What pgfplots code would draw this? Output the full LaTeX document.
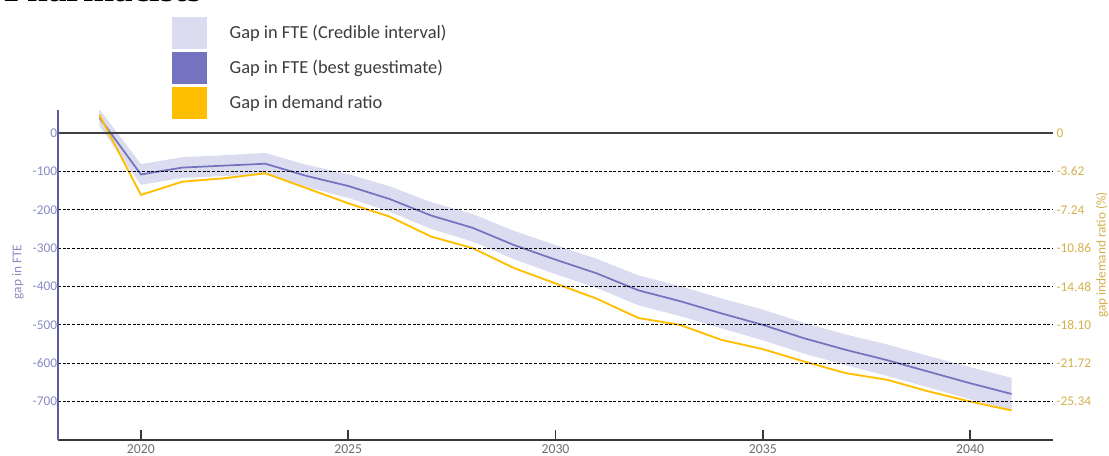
\documentclass[border=0pt]{standalone}
\usepackage{fontspec}
\setmainfont{Carlito}
\newfontfamily\titlefont{Liberation Serif}
\usepackage{pgfplots}
\pgfplotsset{compat=1.18}
\usepgfplotslibrary{fillbetween}
\usepackage{pgfplotstable}

\definecolor{bandcol}{HTML}{DCDCF0}
\definecolor{bluecol}{HTML}{7373C0}
\definecolor{orangecol}{HTML}{FFBF00}
\definecolor{lefttick}{HTML}{8A8AC4}
\definecolor{righttick}{HTML}{D4B04C}
\definecolor{leftaxis}{HTML}{5C5CA0}
\definecolor{xtickcol}{HTML}{6E6E6E}
\definecolor{legtext}{HTML}{3C3C3C}

\pgfplotstableread{
year blue lo hi
2019 40 18 62
2020 -108 -135 -81
2021 -90 -117 -63
2022 -85 -112 -58
2023 -80 -108 -52
2024 -112 -141 -83
2025 -138 -169 -107
2026 -172 -205 -139
2027 -215 -250 -180
2028 -247 -283 -211
2029 -292 -329 -255
2030 -330 -368 -292
2031 -366 -404 -328
2032 -410 -449 -371
2033 -438 -477 -399
2034 -470 -509 -431
2035 -500 -540 -460
2036 -535 -575 -495
2037 -565 -605 -525
2038 -592 -633 -551
2039 -622 -663 -581
2040 -652 -694 -610
2041 -680 -722 -638
}\fte

\pgfplotstableread{
year ratio
2019 1.70
2020 -5.84
2021 -4.59
2022 -4.27
2023 -3.80
2024 -5.21
2025 -6.63
2026 -7.89
2027 -9.77
2028 -10.86
2029 -12.74
2030 -14.19
2031 -15.64
2032 -17.45
2033 -18.10
2034 -19.51
2035 -20.39
2036 -21.56
2037 -22.65
2038 -23.28
2039 -24.38
2040 -25.33
2041 -26.17
}\ratio

\begin{document}
\begin{tikzpicture}
\begin{axis}[
  at={(0pt,0pt)}, anchor=south west,
  scale only axis, width=746.25pt, height=247.5pt,
  xmin=2018, xmax=2042, ymin=-800, ymax=60,
  axis x line*=bottom, axis y line*=left,
  x axis line style={draw=black!78, line width=1.1pt},
  y axis line style={draw=leftaxis, line width=1.1pt},
  tick align=inside,
  major tick length=7.5pt,
  xtick={2020,2025,2030,2035,2040},
  xticklabels={2020,2025,2030,2035,2040},
  xtick style={draw=black!78, line width=1.1pt},
  xticklabel style={font=\fontsize{10.3}{12}\selectfont, text=xtickcol},
  ytick={-700,-600,-500,-400,-300,-200,-100},
  yticklabels={-700,-600,-500,-400,-300,-200,-100},
  ytick style={draw=none},
  yticklabel style={font=\fontsize{10}{12}\selectfont, text=lefttick, inner sep=0.5pt},
  extra y ticks={0},
  extra y tick labels={0},
  extra y tick style={grid=major, major grid style={solid, draw=black!75, line width=1.1pt}},
  ymajorgrids,
  major grid style={draw=black, line width=0.85pt, dash pattern=on 2.25pt off 1.25pt},
  axis on top,
  legend cell align=left,
  legend image code/.code={\fill[#1] (0pt,-12pt) rectangle (26.25pt,12pt);},
  legend style={at={(axis description cs:0.11457,1.28182)}, anchor=north west,
    draw=none, fill=none, inner sep=0pt, outer sep=0pt, row sep=2.25pt, column sep=17pt,
    font=\fontsize{13.8}{15}\selectfont, text=legtext, nodes={inner sep=0pt}},
]
\addplot[name path=hi, draw=none, forget plot] table[x=year, y=hi]{\fte};
\addplot[name path=lo, draw=none, forget plot] table[x=year, y=lo]{\fte};
\addplot[fill=bandcol, draw=none, forget plot] fill between[of=hi and lo];
\addplot[bluecol, line width=1.3pt, forget plot] table[x=year, y=blue]{\fte};
\addlegendimage{fill=bandcol, draw=none}
\addlegendentry{Gap in FTE (Credible interval)}
\addlegendimage{fill=bluecol, draw=none}
\addlegendentry{Gap in FTE (best guestimate)}
\addlegendimage{fill=orangecol, draw=none}
\addlegendentry{Gap in demand ratio}
\end{axis}

\begin{axis}[
  at={(0pt,0pt)}, anchor=south west,
  scale only axis, width=746.25pt, height=247.5pt,
  xmin=2018, xmax=2042, ymin=-28.96, ymax=2.172,
  axis line style={draw=none},
  xtick=\empty,
  ytick={-25.34,-21.72,-18.10,-14.48,-10.86,-7.24,-3.62,0},
  yticklabels={-25.34,-21.72,-18.10,-14.48,-10.86,-7.24,-3.62,0},
  yticklabel pos=right,
  ytick style={draw=none},
  yticklabel style={font=\fontsize{10}{12}\selectfont, text=righttick, inner sep=0.5pt, xshift=2pt},
]
\addplot[orangecol, line width=1.4pt] table[x=year, y=ratio]{\ratio};
\end{axis}

\node[rotate=90, anchor=center, font=\fontsize{10}{12}\selectfont, text=lefttick] at (-30pt,126pt) {gap in FTE};
\node[rotate=90, anchor=center, font=\fontsize{10}{12}\selectfont, text=righttick] at (783pt,138.75pt) {gap indemand ratio (\%)};
\node[anchor=base west, font=\titlefont\bfseries\fontsize{28}{30}\selectfont] at (-43.5pt,329pt) {Pharmacists};
\pgfresetboundingbox
\useasboundingbox (-43.5pt,-12pt) rectangle (788.25pt,330pt);
\end{tikzpicture}
\end{document}
